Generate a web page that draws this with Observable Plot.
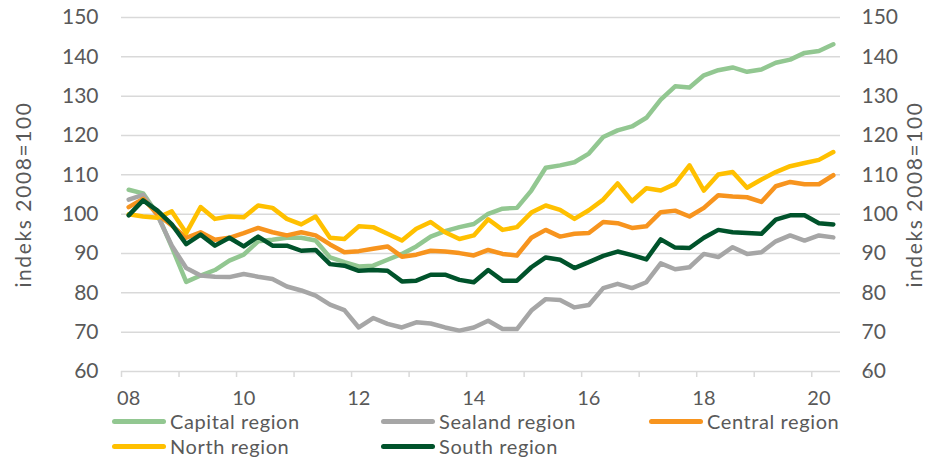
<!DOCTYPE html>
<html>
<head>
<meta charset="utf-8">
<script src="https://cdn.jsdelivr.net/npm/d3@7"></script>
<script src="https://cdn.jsdelivr.net/npm/@observablehq/plot@0.6"></script>
<style>
  body { margin: 0; background: #fff; font-family: Lato, "Open Sans", sans-serif; }
  #wrap { position: relative; width: 929px; height: 460px; overflow: hidden; }
  #legend { position: absolute; left: 0; top: 408px; width: 929px; height: 52px; }
  .item { position: absolute; display: flex; align-items: center; height: 24px; font-size: 20px; line-height: 1; color: #595959; white-space: nowrap; letter-spacing: 0.6px; }
  .item span.tx { line-height: 1; display: inline-block; }
  .sw { width: 54px; height: 5px; border-radius: 3px; margin-right: 4px; }
</style>
</head>
<body>
<div id="wrap">
  <div id="chart"></div>
  <div id="legend"></div>
</div>
<script>
// Quarterly categories 2008K1 .. 2020K2
const quarters = [
  "2008K1","2008K2","2008K3","2008K4","2009K1","2009K2","2009K3","2009K4",
  "2010K1","2010K2","2010K3","2010K4","2011K1","2011K2","2011K3","2011K4",
  "2012K1","2012K2","2012K3","2012K4","2013K1","2013K2","2013K3","2013K4",
  "2014K1","2014K2","2014K3","2014K4","2015K1","2015K2","2015K3","2015K4",
  "2016K1","2016K2","2016K3","2016K4","2017K1","2017K2","2017K3","2017K4",
  "2018K1","2018K2","2018K3","2018K4","2019K1","2019K2","2019K3","2019K4",
  "2020K1","2020K2"
];

const capital = [106.2,105.3,100.0,91.6,82.8,84.4,85.8,88.2,89.7,93.1,93.5,94.0,94.0,93.3,89.0,87.8,86.7,86.9,88.4,89.9,91.8,94.3,95.7,96.7,97.5,100.1,101.4,101.6,106.0,111.8,112.4,113.2,115.4,119.6,121.3,122.3,124.5,129.1,132.5,132.2,135.3,136.6,137.3,136.2,136.8,138.5,139.3,141.0,141.5,143.2];
const sealand = [103.7,104.9,99.7,92.0,86.3,84.4,84.1,84.0,84.8,84.1,83.5,81.6,80.6,79.3,77.0,75.6,71.2,73.6,72.1,71.2,72.5,72.2,71.2,70.4,71.2,72.9,70.8,70.8,75.5,78.4,78.2,76.3,76.9,81.2,82.3,81.2,82.7,87.5,86.0,86.5,89.9,89.1,91.6,89.9,90.3,93.1,94.6,93.3,94.6,94.1];
const central = [101.8,103.9,100.0,97.1,94.0,95.4,93.5,94.0,95.2,96.5,95.4,94.6,95.4,94.6,92.3,90.3,90.6,91.2,91.8,89.2,89.7,90.7,90.5,90.1,89.5,90.9,89.9,89.5,94.0,96.0,94.3,95.0,95.2,98.0,97.7,96.5,96.9,100.5,100.9,99.4,101.6,104.8,104.5,104.3,103.1,107.1,108.2,107.6,107.6,109.9];
const north = [100.0,99.4,99.1,100.7,95.2,101.8,98.8,99.4,99.2,102.2,101.6,98.8,97.4,99.4,94.0,93.7,96.9,96.7,95.0,93.3,96.3,98.0,95.4,93.7,94.6,98.7,96.0,96.7,100.4,102.2,101.1,98.8,101.0,103.7,107.8,103.3,106.6,106.0,107.7,112.4,106.0,110.1,110.7,106.7,108.8,110.7,112.2,113.0,113.8,115.8];
const south = [99.7,103.5,100.9,97.4,92.4,94.8,92.0,94.0,91.8,94.3,92.0,92.0,90.7,90.9,87.3,86.9,85.6,85.8,85.6,82.9,83.1,84.6,84.6,83.3,82.7,85.8,83.1,83.1,86.5,89.0,88.4,86.3,87.8,89.4,90.5,89.6,88.5,93.6,91.5,91.4,94.0,96.0,95.4,95.2,95.0,98.6,99.7,99.7,97.7,97.4];

const seriesNames = ["Capital region","Sealand region","Central region","North region","South region"];
const seriesColors = ["#92c791","#a6a6a6","#f7941e","#ffc000","#00532b"];
const seriesValues = [capital, sealand, central, north, south];

const yTicks = [60,70,80,90,100,110,120,130,140,150];
const xTickLabels = ["08","10","12","14","16","18","20"];
const xTickQuarters = ["2008K1","2010K1","2012K1","2014K1","2016K1","2018K1","2020K1"];
const yTitle = "indeks 2008=100";

// Build tidy rows
const rows = [];
seriesNames.forEach((name, s) => {
  seriesValues[s].forEach((v, i) => rows.push({series: name, q: i, value: v}));
});
const labelPos = xTickQuarters.map(q => quarters.indexOf(q));
const yearMarks = quarters.map((q, i) => i).filter(i => quarters[i].endsWith("K1")).map(i => i - 0.5);
yearMarks.push(yearMarks[yearMarks.length - 1] + 4);

const grey = "#595959";
const chart = Plot.plot({
  width: 929,
  height: 408,
  marginLeft: 121,
  marginRight: 89,
  marginTop: 17,
  marginBottom: 37,
  style: {fontFamily: "Lato, 'Open Sans', sans-serif", fontSize: "21px", color: grey, background: "#fff", overflow: "visible"},
  x: {type: "linear", domain: [-0.5, quarters.length - 0.5]},
  y: {domain: [60, 150]},
  color: {domain: seriesNames, range: seriesColors},
  marks: [
    Plot.gridY(yTicks, {stroke: "#d9d9d9", strokeOpacity: 1, strokeWidth: 1.5}),
    Plot.axisY(yTicks, {anchor: "left", tickSize: 0, tickPadding: 23, label: null, fill: grey}),
    Plot.axisY(yTicks, {anchor: "right", tickSize: 0, tickPadding: 21, label: null, fill: grey}),
    Plot.axisX(yearMarks, {tickSize: 6, tickFormat: () => "", stroke: "#d9d9d9", strokeWidth: 1.5, strokeOpacity: 1, label: null}),
    Plot.axisX(labelPos, {tickSize: 0, tickPadding: 19, fontSize: 20, tickFormat: (d) => xTickLabels[labelPos.indexOf(d)], label: null, fill: grey}),
    Plot.text([yTitle], {frameAnchor: "left", rotate: -90, dx: -97, textAnchor: "middle", lineAnchor: "middle", fill: grey, fontSize: 21}),
    Plot.text([yTitle], {frameAnchor: "right", rotate: -90, dx: 75, textAnchor: "middle", lineAnchor: "middle", fill: grey, fontSize: 21}),
    Plot.line(rows, {x: "q", y: "value", z: "series", stroke: "series", strokeWidth: 4.5, strokeLinejoin: "round", strokeLinecap: "round"})
  ]
});
document.getElementById("chart").appendChild(chart);
// widen the axis titles a little, as in the reference
chart.querySelectorAll("text").forEach(t => {
  if (t.textContent === yTitle) t.style.letterSpacing = "1.6px";
});

// Legend (HTML below the SVG)
const legendPos = [[112, 1], [381, 1], [649, 1], [112, 26], [381, 26]];
const legend = document.getElementById("legend");
seriesNames.forEach((name, s) => {
  const it = document.createElement("div");
  it.className = "item";
  it.style.left = legendPos[s][0] + "px";
  it.style.top = legendPos[s][1] + "px";
  const sw = document.createElement("span");
  sw.className = "sw";
  sw.style.background = seriesColors[s];
  const tx = document.createElement("span");
  tx.className = "tx";
  tx.textContent = name;
  it.appendChild(sw);
  it.appendChild(tx);
  legend.appendChild(it);
});
</script>
</body>
</html>
